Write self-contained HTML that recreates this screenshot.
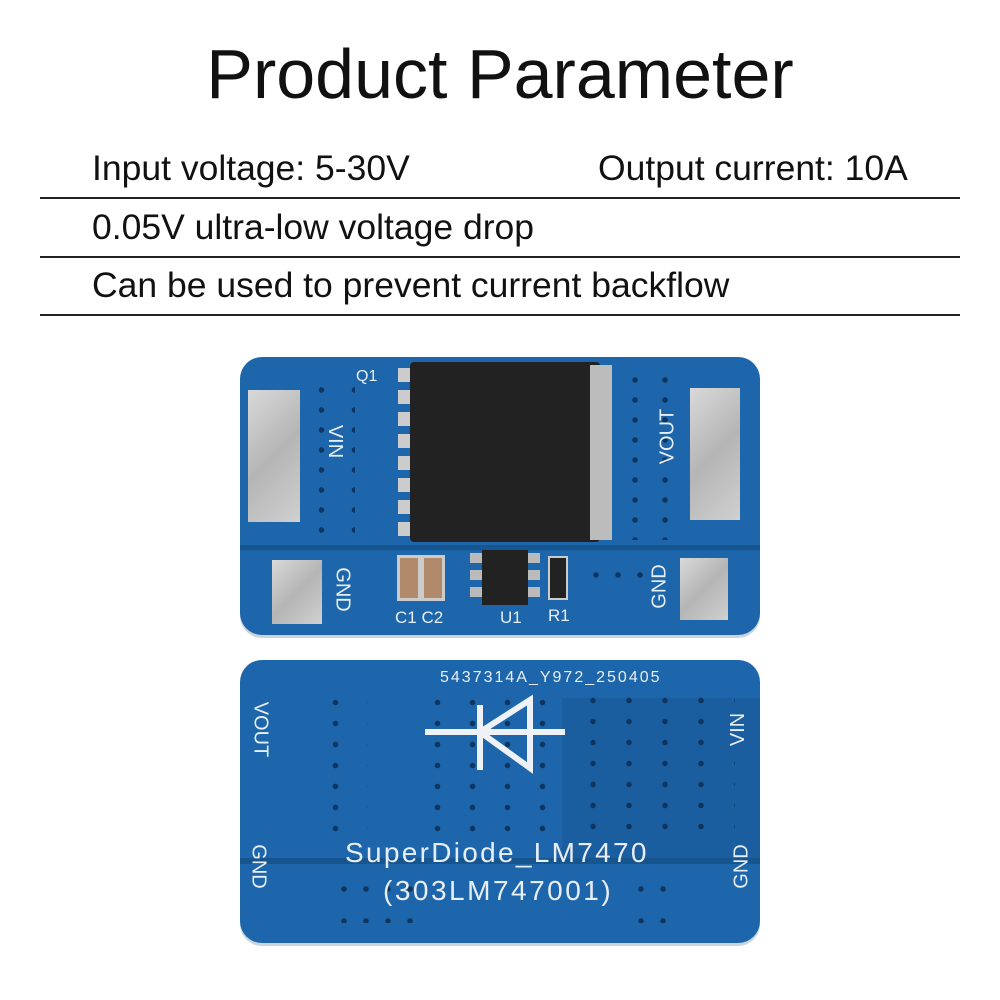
<!DOCTYPE html>
<html><head><style>
body{margin:0;width:1000px;height:1000px;background:#fff;position:relative;overflow:hidden;font-family:"Liberation Sans",sans-serif}
.a{position:absolute}
.t{font-size:35.5px;color:#111}
.ln{position:absolute;left:40px;width:920px;height:2px;background:#222}
.b{position:absolute;background:#1e66ab;border-radius:22px;box-shadow:0 3px 0 #c9d4dc}
.pad{position:absolute;background:linear-gradient(135deg,#d9d9d9,#b5b5b5 50%,#d0d0d0)}
.wl{position:absolute;color:#e8eef5;font-size:20px;white-space:nowrap}
.vias{position:absolute;background-image:radial-gradient(circle,#0e3560 2.5px,transparent 3px)}
</style></head><body>
<div class="a" style="left:0;width:1000px;top:34px;text-align:center;font-size:70px;color:#111">Product Parameter</div>
<div class="a t" style="left:92px;top:148px">Input voltage: 5-30V</div>
<div class="a t" style="left:598px;top:148px">Output current: 10A</div>
<div class="ln" style="top:197px"></div>
<div class="a t" style="left:92px;top:207px">0.05V ultra-low voltage drop</div>
<div class="ln" style="top:256px"></div>
<div class="a t" style="left:92px;top:265px">Can be used to prevent current backflow</div>
<div class="ln" style="top:314px"></div>

<!-- board 1 -->
<div class="b" style="left:240px;top:357px;width:520px;height:278px"></div>
<div class="a" style="left:240px;top:545px;width:520px;height:5px;background:#17558f"></div>
<div class="vias" style="left:305px;top:380px;width:50px;height:160px;background-size:33px 20px"></div>
<div class="vias" style="left:620px;top:370px;width:60px;height:170px;background-size:30px 20px"></div>
<div class="vias" style="left:585px;top:560px;width:70px;height:40px;background-size:22px 30px"></div>
<div class="pad" style="left:248px;top:390px;width:52px;height:132px"></div>
<div class="pad" style="left:272px;top:560px;width:50px;height:64px"></div>
<div class="pad" style="left:690px;top:388px;width:50px;height:132px"></div>
<div class="pad" style="left:680px;top:558px;width:48px;height:62px"></div>
<div class="a" style="left:398px;top:368px;width:22px;height:168px;background:repeating-linear-gradient(#ccc 0 14px,#1e66ab 14px 22px)"></div>
<div class="a" style="left:410px;top:362px;width:190px;height:180px;background:#222;border-radius:4px"></div>
<div class="a" style="left:590px;top:365px;width:22px;height:175px;background:#bcbcbc"></div>
<div class="wl" style="left:356px;top:368px;font-size:16px">Q1</div>
<div class="wl" style="left:318px;top:430px;transform:rotate(90deg)">VIN</div>
<div class="wl" style="left:640px;top:425px;transform:rotate(-90deg)">VOUT</div>
<div class="wl" style="left:320px;top:578px;transform:rotate(90deg)">GND</div>
<div class="wl" style="left:638px;top:575px;transform:rotate(-90deg)">GND</div>
<div class="a" style="left:397px;top:555px;width:18px;height:40px;background:#b08a6a;border:3px solid #ccc"></div>
<div class="a" style="left:421px;top:555px;width:18px;height:40px;background:#b08a6a;border:3px solid #ccc"></div>
<div class="a" style="left:470px;top:553px;width:70px;height:50px;background:repeating-linear-gradient(#bbb 0 10px,#1e66ab 10px 17px)"></div>
<div class="a" style="left:482px;top:550px;width:46px;height:55px;background:#222"></div>
<div class="a" style="left:548px;top:556px;width:16px;height:40px;background:#222;border:2px solid #ccc"></div>
<div class="wl" style="left:395px;top:608px;font-size:17px">C1 C2</div>
<div class="wl" style="left:500px;top:608px;font-size:17px">U1</div>
<div class="wl" style="left:548px;top:606px;font-size:17px">R1</div>

<!-- board 2 -->
<div class="b" style="left:240px;top:660px;width:520px;height:283px"></div>
<div class="a" style="left:240px;top:858px;width:520px;height:6px;background:#17558f"></div>
<div class="a" style="left:562px;top:698px;width:198px;height:160px;background:#1b5e9f"></div>
<div class="vias" style="left:318px;top:692px;width:50px;height:150px;background-size:35px 21px"></div>
<div class="vias" style="left:420px;top:692px;width:140px;height:150px;background-size:35px 21px"></div>
<div class="vias" style="left:575px;top:690px;width:160px;height:150px;background-size:36px 21px"></div>
<div class="vias" style="left:333px;top:873px;width:90px;height:50px;background-size:22px 32px"></div>
<div class="vias" style="left:630px;top:873px;width:50px;height:50px;background-size:22px 32px"></div>
<div class="wl" style="left:440px;top:669px;font-size:16px;letter-spacing:2px">5437314A_Y972_250405</div>
<svg class="a" style="left:420px;top:690px" width="160" height="100"><g stroke="#eef2f7" stroke-width="6" fill="none"><line x1="5" y1="42" x2="145" y2="42"/><line x1="60" y1="15" x2="60" y2="80"/><polygon points="60,42 110,10 110,78"/></g></svg>
<div class="wl" style="left:232px;top:718px;transform:rotate(90deg)">VOUT</div>
<div class="wl" style="left:722px;top:718px;transform:rotate(-90deg)">VIN</div>
<div class="wl" style="left:236px;top:855px;transform:rotate(90deg)">GND</div>
<div class="wl" style="left:720px;top:855px;transform:rotate(-90deg)">GND</div>
<div class="wl" style="left:345px;top:837px;font-size:28px;letter-spacing:2.3px">SuperDiode_LM7470</div>
<div class="wl" style="left:383px;top:875px;font-size:28px;letter-spacing:2.5px">(303LM747001)</div>
</body></html>
